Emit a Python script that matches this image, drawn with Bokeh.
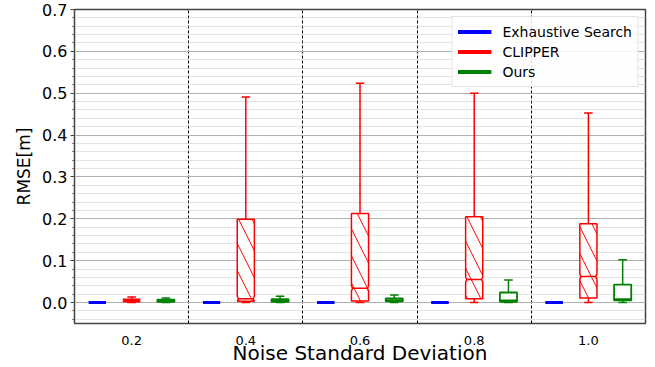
from bokeh.plotting import figure
from bokeh.models import FixedTicker, Legend, LegendItem, Range1d
from bokeh.embed import file_html
from bokeh.resources import INLINE

# ---------------- data ----------------
noise_labels = ["0.2", "0.4", "0.6", "0.8", "1.0"]
method_names = ["Exhaustive Search", "CLIPPER", "Ours"]
method_colors = ["#0000ff", "#ff0000", "#008000"]

# box statistics per noise level: lower whisker, q1, median, q3, upper whisker
exh_lo = [0.0, 0.0, 0.0, 0.0, 0.0]
exh_q1 = [0.0, 0.0, 0.0, 0.0, 0.0]
exh_med = [0.0, 0.0, 0.0, 0.0, 0.0]
exh_q3 = [0.0, 0.0, 0.0, 0.0, 0.0]
exh_hi = [0.0, 0.0, 0.0, 0.0, 0.0]

clip_lo = [0.0, 0.0, 0.0, 0.0, 0.0]
clip_q1 = [0.002, 0.003, 0.004, 0.009, 0.011]
clip_med = [0.005, 0.009, 0.034, 0.055, 0.062]
clip_q3 = [0.008, 0.199, 0.213, 0.205, 0.188]
clip_hi = [0.013, 0.491, 0.524, 0.500, 0.453]

ours_lo = [0.0, 0.0, 0.0, 0.0, 0.0]
ours_q1 = [0.002, 0.002, 0.003, 0.002, 0.005]
ours_med = [0.004, 0.004, 0.006, 0.005, 0.008]
ours_q3 = [0.007, 0.008, 0.010, 0.024, 0.043]
ours_hi = [0.011, 0.015, 0.018, 0.054, 0.102]

y_ticks = [0.0, 0.1, 0.2, 0.3, 0.4, 0.5, 0.6, 0.7]
y_tick_labels = ["0.0", "0.1", "0.2", "0.3", "0.4", "0.5", "0.6", "0.7"]
x_title = "Noise Standard Deviation"
y_title = "RMSE[m]"

# ---------------- layout / style ----------------
W, H = 655, 367
Y_LO, Y_HI = -0.05, 0.7
FONT = "DejaVu Sans"
offsets = [-0.3, 0.0, 0.3]
box_w = 0.15
cap_w = 0.075

p = figure(width=W, height=H, output_backend="svg", toolbar_location=None,
           x_range=Range1d(0, len(noise_labels)), y_range=Range1d(Y_LO, Y_HI),
           min_border_left=74, min_border_right=10,
           min_border_top=9, min_border_bottom=42)
p.background_fill_color = "white"
p.border_fill_color = "white"
p.outline_line_color = "#444444"
p.outline_line_width = 1.5

# x axis
centers = [i + 0.5 for i in range(len(noise_labels))]
p.xaxis.ticker = FixedTicker(ticks=centers)
p.xaxis.major_label_overrides = {c: lab for c, lab in zip(centers, noise_labels)}
p.xaxis.major_tick_out = 0
p.xaxis.major_tick_in = 0
p.xaxis.minor_tick_out = 0
p.xaxis.minor_tick_in = 0
p.xaxis.axis_line_color = None
p.xaxis.major_label_standoff = 12
p.xaxis.major_label_text_font = FONT
p.xaxis.major_label_text_font_size = "13px"
p.xaxis.major_label_text_color = "black"
p.xaxis.axis_label = x_title
p.xaxis.axis_label_text_font = FONT
p.xaxis.axis_label_text_font_size = "20px"
p.xaxis.axis_label_text_font_style = "normal"
p.xaxis.axis_label_text_color = "black"
p.xaxis.axis_label_standoff = -7

# y axis
minor = [round(-0.04 + 0.02 * k, 2) for k in range(37)]
minor = [m for m in minor if m not in y_ticks]
p.yaxis.ticker = FixedTicker(ticks=y_ticks, minor_ticks=minor)
p.yaxis.major_label_overrides = {t: lab for t, lab in zip(y_ticks, y_tick_labels)}
p.yaxis.axis_line_color = None
p.yaxis.major_tick_out = 4
p.yaxis.major_tick_in = 0
p.yaxis.minor_tick_out = 2
p.yaxis.minor_tick_in = 0
p.yaxis.major_tick_line_color = "#444444"
p.yaxis.minor_tick_line_color = "#444444"
p.yaxis.major_label_standoff = 3
p.yaxis.major_label_text_font = FONT
p.yaxis.major_label_text_font_size = "16px"
p.yaxis.major_label_text_color = "black"
p.yaxis.axis_label = y_title
p.yaxis.axis_label_text_font = FONT
p.yaxis.axis_label_text_font_size = "17px"
p.yaxis.axis_label_text_font_style = "normal"
p.yaxis.axis_label_text_color = "black"
p.yaxis.axis_label_standoff = 5

# grids
p.ygrid.grid_line_color = "#b0b0b0"
p.ygrid.grid_line_width = 1
p.ygrid.minor_grid_line_color = "#c4c4c4"
p.ygrid.minor_grid_line_dash = "1 1"
p.ygrid.minor_grid_line_width = 1
p.xgrid.ticker = FixedTicker(ticks=list(range(1, len(noise_labels))))
p.xgrid.grid_line_color = "black"
p.xgrid.grid_line_dash = "3 2"
p.xgrid.grid_line_width = 1

stats = [
    (exh_lo, exh_q1, exh_med, exh_q3, exh_hi),
    (clip_lo, clip_q1, clip_med, clip_q3, clip_hi),
    (ours_lo, ours_q1, ours_med, ours_q3, ours_hi),
]

for j, (lo, q1, med, q3, hi) in enumerate(stats):
    col = method_colors[j]
    xs = [c + offsets[j] for c in centers]
    lw = [3, 1.5, 1.8][j]
    # whiskers
    p.segment(x0=xs, y0=q3, x1=xs, y1=hi, line_color=col, line_width=1.5)
    p.segment(x0=xs, y0=lo, x1=xs, y1=q1, line_color=col, line_width=1.5)
    # caps
    p.segment(x0=[x - cap_w / 2 for x in xs], y0=hi, x1=[x + cap_w / 2 for x in xs], y1=hi,
              line_color=col, line_width=1.5)
    p.segment(x0=[x - cap_w / 2 for x in xs], y0=lo, x1=[x + cap_w / 2 for x in xs], y1=lo,
              line_color=col, line_width=1.5)
    if j == 1:
        # notched, hatched boxes
        inset = box_w * 0.07
        nh = 0.006
        pxs, pys = [], []
        for x, a, m, b in zip(xs, q1, med, q3):
            l, r = x - box_w / 2, x + box_w / 2
            nlo, nhi = max(a, m - nh), min(b, m + nh)
            pxs.append([l, l, l + inset, l, l, r, r, r - inset, r, r])
            pys.append([a, nlo, m, nhi, b, b, nhi, m, nlo, a])
        p.patches(xs=pxs, ys=pys, fill_color="white", line_color=col, line_width=lw,
                  hatch_pattern="\\", hatch_color=col, hatch_scale=27, hatch_weight=1)
        p.segment(x0=[x - box_w / 2 + inset for x in xs], y0=med,
                  x1=[x + box_w / 2 - inset for x in xs], y1=med, line_color=col, line_width=lw)
    else:
        p.quad(left=[x - box_w / 2 for x in xs], right=[x + box_w / 2 for x in xs],
               bottom=q1, top=q3, fill_color="white", line_color=col, line_width=lw)
        p.segment(x0=[x - box_w / 2 for x in xs], y0=med,
                  x1=[x + box_w / 2 for x in xs], y1=med, line_color=col, line_width=lw)

# legend proxies (a single NaN point: nothing drawn in the plot)
items = []
for name, col in zip(method_names, method_colors):
    r = p.line(x=[float("nan")], y=[float("nan")], line_color=col, line_width=4)
    items.append(LegendItem(label=name, renderers=[r]))
legend = Legend(items=items, location="top_right", margin=7, padding=5,
                label_text_font=FONT, label_text_font_size="14px", label_text_color="black",
                glyph_width=34, glyph_height=19, label_height=19, label_standoff=11, spacing=1,
                border_line_color="#cccccc", border_line_width=1,
                background_fill_color="white", background_fill_alpha=0.85)
p.add_layout(legend, "center")

open("out.html", "w").write(file_html(p, INLINE))
